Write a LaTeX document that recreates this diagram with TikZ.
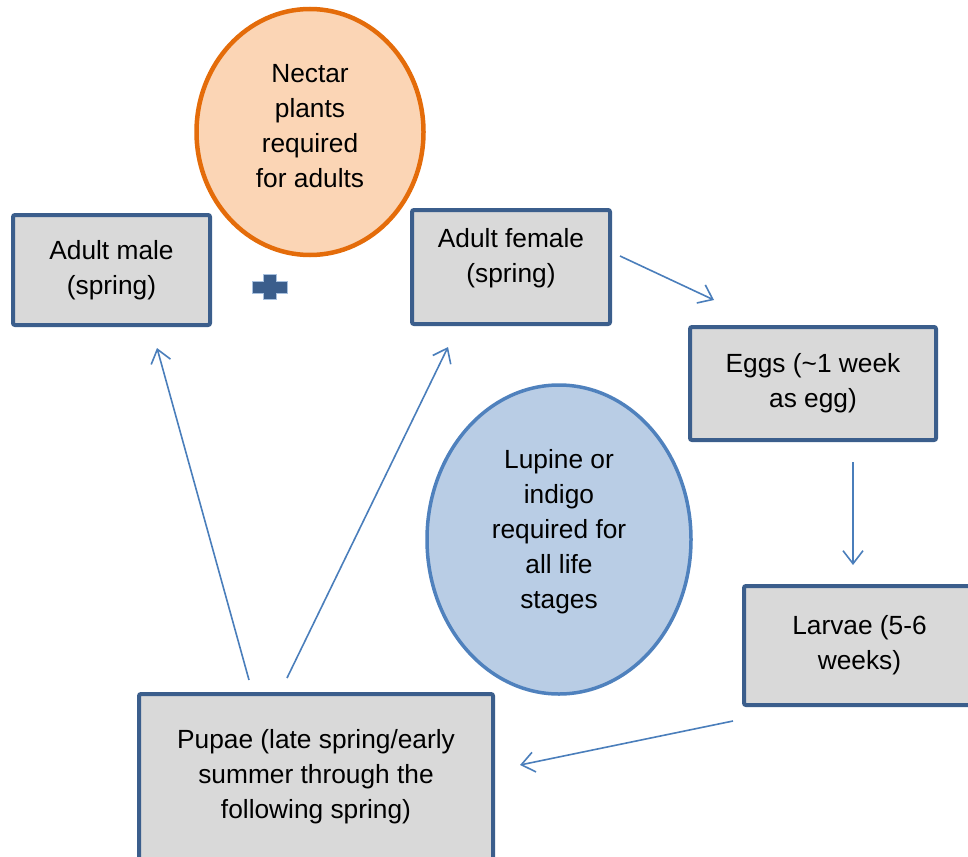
\documentclass[tikz,border=0pt]{standalone}
\usepackage{fontspec}
\setmainfont{Liberation Sans}
\usetikzlibrary{shapes.geometric,arrows.meta,calc}
\definecolor{boxline}{RGB}{59,94,140}
\definecolor{boxfill}{RGB}{217,217,217}
\definecolor{arrowblue}{RGB}{74,126,187}
\definecolor{nectarfill}{RGB}{251,213,181}
\definecolor{nectarline}{RGB}{228,108,10}
\definecolor{lupinefill}{RGB}{185,205,229}
\definecolor{lupineline}{RGB}{79,129,189}
\tikzset{
  stage/.style={draw=boxline, fill=boxfill, line width=4pt, rounded corners=2pt, align=center, inner sep=0pt, outer sep=0pt, font=\fontsize{26.3}{35}\selectfont},
  plant/.style={ellipse, line width=4.5pt, align=center, inner sep=0pt, outer sep=0pt, font=\fontsize{26.3}{35}\selectfont},
  flow/.style={draw=arrowblue, line width=1.6pt, -{Straight Barb[length=13pt,width=20pt,line width=1.6pt]}}
}
\begin{document}
\begin{tikzpicture}[x=1pt,y=-1pt]
\useasboundingbox (0,0) rectangle (968,856);
\clip (0,0) rectangle (968,856);
% plants
\node[plant, draw=nectarline, fill=nectarfill, minimum width=227pt, minimum height=246pt, text depth=12pt] (nectar) at (310,132) {Nectar\\plants\\required\\for adults};
\node[plant, draw=lupineline, fill=lupinefill, line width=3.5pt, minimum width=264pt, minimum height=309pt, text depth=21pt] (lupine) at (559,539.5) {Lupine or\\indigo\\required for\\all life\\stages};
% stages
\node[stage, minimum width=197pt, minimum height=110pt] (male) at (111.5,270) {Adult male\\(spring)};
\node[stage, minimum width=198pt, minimum height=114pt, text depth=24pt] (female) at (511,267) {Adult female\\(spring)};
\node[stage, minimum width=246pt, minimum height=113pt] (eggs) at (813,383.5) {Eggs (\textasciitilde1 week\\as egg)};
\node[stage, minimum width=231pt, minimum height=119pt] (larvae) at (859.5,645.5) {Larvae (5-6\\weeks)};
\node[stage, minimum width=354pt, minimum height=184pt, text depth=24pt] (pupae) at (316,786) {Pupae (late spring/early\\summer through the\\following spring)};
% plus
\filldraw[boxline, draw=lupineline!50, line width=0.5pt] (263,274) -- (276,274) -- (276,281) -- (287,281) -- (287,293) -- (276,293) -- (276,299) -- (263,299) -- (263,293) -- (252,293) -- (252,281) -- (263,281) -- cycle;
% cycle
\draw[flow] ($(female.east)+(10,-11)$) -- ($(eggs.north west)+(24,-27)$);
\draw[flow] ($(eggs.south)+(40,22)$) -- ($(larvae.north)+(-6.5,-21)$);
\draw[flow] ($(larvae.south west)+(-11,16)$) -- ($(pupae.north east)+(27,71)$);
\draw[flow] ($(pupae.north west)+(110,-14)$) -- ($(male.south)+(45.5,23)$);
\draw[flow] ($(pupae.north west)+(148,-16)$) -- ($(female.south west)+(36,23)$);
\end{tikzpicture}
\end{document}
